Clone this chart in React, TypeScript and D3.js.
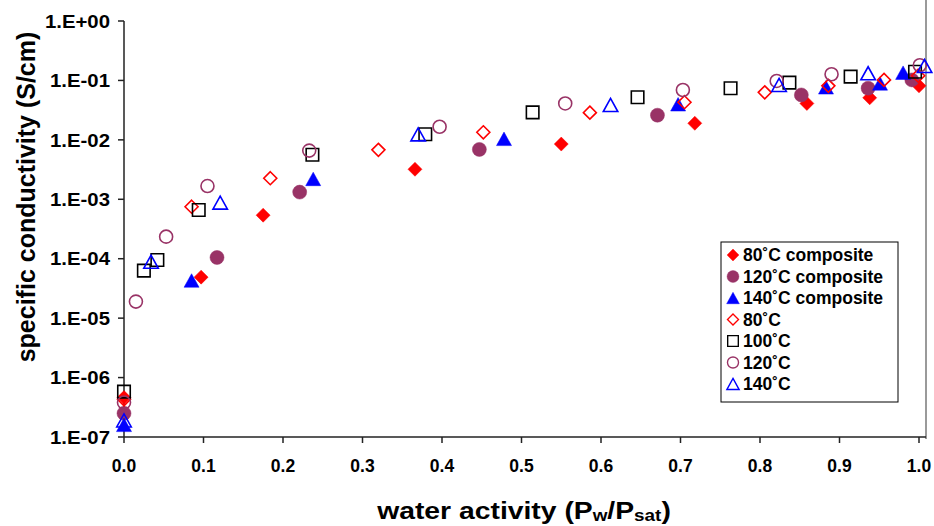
import React from 'react';
import * as d3 from 'd3';

// ---------- data ----------
const xTickValues = [0, 0.1, 0.2, 0.3, 0.4, 0.5, 0.6, 0.7, 0.8, 0.9, 1.0];
const xTickLabels = ['0.0', '0.1', '0.2', '0.3', '0.4', '0.5', '0.6', '0.7', '0.8', '0.9', '1.0'];
const yTickValues = [1, 1e-1, 1e-2, 1e-3, 1e-4, 1e-5, 1e-6, 1e-7];
const yTickLabels = ['1.E+00', '1.E-01', '1.E-02', '1.E-03', '1.E-04', '1.E-05', '1.E-06', '1.E-07'];

const seriesNames = [
  '80˚C composite',
  '120˚C composite',
  '140˚C composite',
  '80˚C',
  '100˚C',
  '120˚C',
  '140˚C',
];

const comp80: [number, number][] = [
  [0, 4.6e-7], [0.097, 4.9e-5], [0.175, 5.4e-4], [0.366, 3.2e-3], [0.55, 8.5e-3],
  [0.718, 0.019], [0.859, 0.041], [0.938, 0.051], [1.0, 0.081],
];
const comp120: [number, number][] = [
  [0, 2.5e-7], [0.117, 1.05e-4], [0.221, 1.32e-3], [0.447, 6.9e-3], [0.671, 0.026],
  [0.852, 0.057], [0.936, 0.074], [0.991, 0.102],
];
const comp140: [number, number][] = [
  [0, 1.6e-7], [0.085, 4.3e-5], [0.238, 2.2e-3], [0.478, 0.0104], [0.697, 0.0397],
  [0.883, 0.0766], [0.951, 0.089], [0.98, 0.135],
];
const plain80: [number, number][] = [
  [0, 4.3e-7], [0.085, 7.5e-4], [0.184, 2.26e-3], [0.32, 6.8e-3], [0.452, 0.0134],
  [0.586, 0.0287], [0.705, 0.043], [0.806, 0.063], [0.886, 0.081], [0.956, 0.102], [0.999, 0.12],
];
const plain100: [number, number][] = [
  [0, 5.8e-7], [0.025, 6.3e-5], [0.042, 9.5e-5], [0.094, 6.6e-4], [0.237, 5.6e-3],
  [0.379, 0.0124], [0.514, 0.029], [0.646, 0.052], [0.763, 0.074], [0.837, 0.092],
  [0.914, 0.116], [0.995, 0.14],
];
const plain120: [number, number][] = [
  [0, 3.8e-7], [0.015, 1.9e-5], [0.053, 2.35e-4], [0.105, 1.67e-3], [0.233, 6.6e-3],
  [0.397, 0.0166], [0.555, 0.041], [0.703, 0.069], [0.821, 0.098], [0.89, 0.127], [1.001, 0.18],
];
const plain140: [number, number][] = [
  [0, 1.9e-7], [0.034, 8.9e-5], [0.121, 8.8e-4], [0.37, 0.0124], [0.612, 0.0386],
  [0.824, 0.084], [0.936, 0.132], [1.007, 0.175],
];

const seriesData = [comp80, comp120, comp140, plain80, plain100, plain120, plain140];

// ---------- styles ----------
const RED = '#FF0000';
const PURPLE = '#993366';
const BLUE = '#0000FF';
const BLACK = '#000000';
const styles = [
  { shape: 'diamond', color: RED, filled: true },
  { shape: 'circle', color: PURPLE, filled: true },
  { shape: 'triangle', color: BLUE, filled: true },
  { shape: 'diamond', color: RED, filled: false },
  { shape: 'square', color: BLACK, filled: false },
  { shape: 'circle', color: PURPLE, filled: false },
  { shape: 'triangle', color: BLUE, filled: false },
];

const FONT = '"Liberation Sans", Arial, Helvetica, sans-serif';

// custom symbol types (size = characteristic dimension in px)
const diamondType = {
  draw(ctx: any, size: number) {
    const r = size / 2;
    ctx.moveTo(0, -r); ctx.lineTo(r, 0); ctx.lineTo(0, r); ctx.lineTo(-r, 0); ctx.closePath();
  },
};
const squareType = {
  draw(ctx: any, size: number) {
    const r = size / 2;
    ctx.moveTo(-r, -r); ctx.lineTo(r, -r); ctx.lineTo(r, r); ctx.lineTo(-r, r); ctx.closePath();
  },
};
const triangleType = {
  draw(ctx: any, size: number) {
    const w = size / 2;
    const h = size * 0.9;
    ctx.moveTo(0, -h / 2); ctx.lineTo(w, h / 2); ctx.lineTo(-w, h / 2); ctx.closePath();
  },
};
const circleType = {
  draw(ctx: any, size: number) {
    const r = size / 2;
    ctx.moveTo(r, 0); ctx.arc(0, 0, r, 0, Math.PI * 2); ctx.closePath();
  },
};

function markerPath(shape: string, filled: boolean): string {
  if (shape === 'diamond') return d3.symbol().type(diamondType as any).size(filled ? 14 : 13)() as string;
  if (shape === 'square') return d3.symbol().type(squareType as any).size(12.5)() as string;
  if (shape === 'triangle') return d3.symbol().type(triangleType as any).size(filled ? 15 : 14.5)() as string;
  return d3.symbol().type(circleType as any).size(filled ? 14 : 13)() as string;
}

export default function App() {
  const W = 934;
  const H = 526;
  const x = d3.scaleLinear().domain([0, 1]).range([124, 919]);
  const y = d3.scaleLog().domain([1e-7, 1]).range([437, 21]);
  const x0 = 124;
  const xEnd = 926;
  const yBase = 437;

  const legendX = 721;
  const legendY = 242;
  const legendW = 177;
  const legendH = 160;
  const rowStep = 21.5;

  return (
    <svg width={W} height={H} style={{ position: 'absolute', left: 0, top: 0, background: '#fff' }}
      fontFamily={FONT}>
      <rect x={0} y={0} width={W} height={H} fill="#fff" />
      {/* right plot border */}
      <line x1={xEnd} x2={xEnd} y1={0} y2={yBase + 2} stroke="#9a9a9a" strokeWidth={2} />

      {/* y axis */}
      <line x1={x0} x2={x0} y1={y(1)} y2={yBase} stroke="#222" strokeWidth={1.5} />
      {yTickValues.map((v, i) => (
        <g key={'yt' + i}>
          <line x1={x0 - 6} x2={x0} y1={y(v)} y2={y(v)} stroke="#222" strokeWidth={1.5} />
          <text transform={`translate(110,${y(v)}) scale(1.1,1)`} dy="0.36em" textAnchor="end"
            fontSize={18.5} fontWeight="bold" fill="#000">
            {yTickLabels[i]}
          </text>
        </g>
      ))}

      {/* x axis */}
      <line x1={x0} x2={xEnd} y1={yBase} y2={yBase} stroke="#222" strokeWidth={1.5} />
      {xTickValues.map((v, i) => (
        <g key={'xt' + i}>
          <line x1={x(v)} x2={x(v)} y1={yBase} y2={yBase + 6} stroke="#222" strokeWidth={1.5} />
          <text x={x(v)} y={472} textAnchor="middle" fontSize={17.5} fontWeight="bold" fill="#000">
            {xTickLabels[i]}
          </text>
        </g>
      ))}

      {/* axis titles */}
      <text transform={`translate(35,197) rotate(-90)`} textAnchor="middle" fontSize={25} fontWeight="bold" fill="#000">
        specific conductivity (S/cm)
      </text>
      <text transform="translate(524,519) scale(1.18,1)" textAnchor="middle" fontSize={24} fontWeight="bold" fill="#000">
        water activity (P<tspan fontSize={16} dy={2}>w</tspan><tspan dy={-2}>/P</tspan>
        <tspan fontSize={16} dy={2}>sat</tspan><tspan dy={-2}>)</tspan>
      </text>

      {/* data */}
      {seriesData.map((data, si) => {
        const st = styles[si];
        const p = markerPath(st.shape, st.filled);
        return (
          <g key={'s' + si}>
            {data.map((d, j) => (
              <path key={j} d={p} transform={`translate(${x(d[0])},${y(d[1])})`}
                fill={st.filled ? st.color : 'none'} stroke={st.color}
                strokeWidth={st.filled ? 0.5 : 1.6} />
            ))}
          </g>
        );
      })}

      {/* legend */}
      <rect x={legendX} y={legendY} width={legendW} height={legendH} fill="#fff" stroke="#000" strokeWidth={1} />
      {seriesNames.map((name, i) => {
        const st = styles[i];
        const cy = legendY + 13 + i * rowStep;
        return (
          <g key={'lg' + i}>
            <path d={markerPath(st.shape, st.filled)} transform={`translate(733,${cy}) scale(0.85)`}
              fill={st.filled ? st.color : 'none'} stroke={st.color} strokeWidth={st.filled ? 0.5 : 1.6} />
            <text x={743} y={cy} dy="0.36em" fontSize={17.5} fontWeight="bold" fill="#000">{name}</text>
          </g>
        );
      })}
    </svg>
  );
}
